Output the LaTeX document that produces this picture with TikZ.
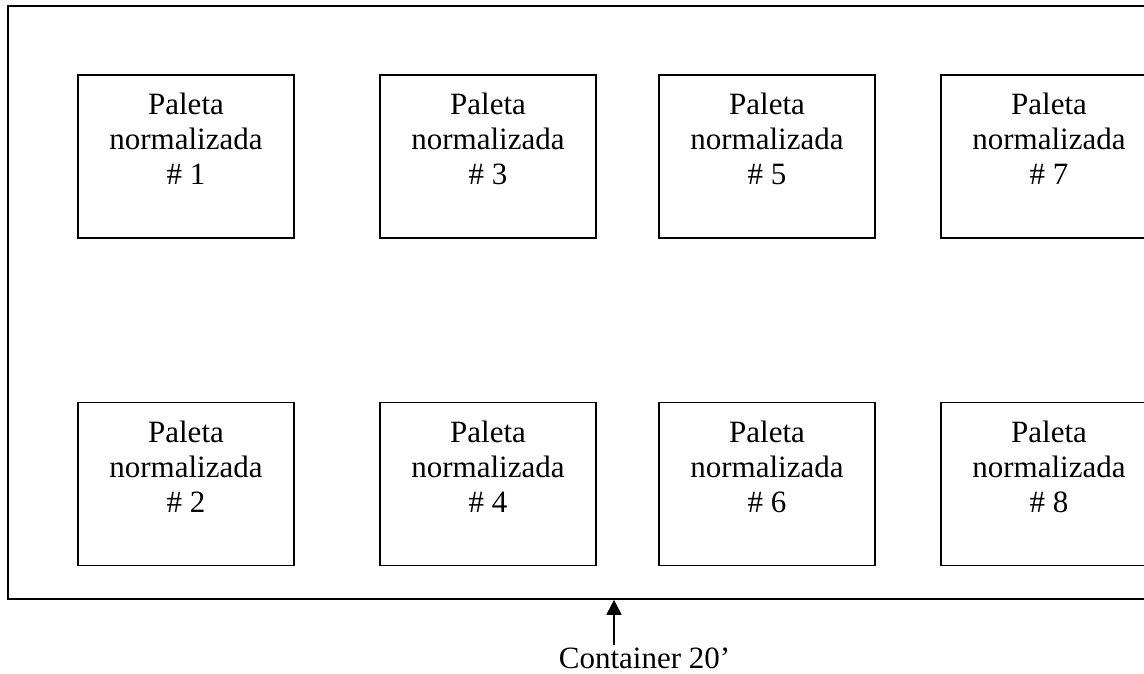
\documentclass[tikz,border=0pt]{standalone}
\usepackage{fontspec}
\setmainfont{Liberation Serif}
\usepackage{tikz}
\usetikzlibrary{arrows.meta,positioning}

\begin{document}
\begin{tikzpicture}[x=1pt,y=1pt,line width=1.8pt,
    palbox/.style={draw,minimum width=216pt,minimum height=163pt,inner sep=0pt},
    pallab/.style={align=center,inner sep=0pt,anchor=north,yshift=-18pt,
      font=\fontsize{31}{35}\selectfont}]
  \useasboundingbox (0,0) rectangle (1144,-673);
  \clip (0,0) rectangle (1144,-673);
  % container outline
  \node[draw,anchor=north west,minimum width=1160pt,minimum height=593pt,inner sep=0pt] (cont) at (7,-5) {};
  % pallets, odd numbers on top
  \foreach \n/\x/\y in {1/186/-156.5,2/186/-484,3/488/-156.5,4/488/-484,
                        5/767/-156.5,6/767/-484,7/1049/-156.5,8/1049/-484}
    \node[palbox,label={[pallab]north:Paleta\\normalizada\\\# \n}] (p\n) at (\x,\y) {};
  % caption
  \node[anchor=base west,inner sep=0pt,font=\fontsize{31}{35}\selectfont] (cap) at (558,-668) {Container 20’};
  \coordinate (tail) at (614,-645);
  \draw[-{Triangle[length=15pt,width=15pt]}] (tail) -- (tail |- cont.south);
\end{tikzpicture}
\end{document}
